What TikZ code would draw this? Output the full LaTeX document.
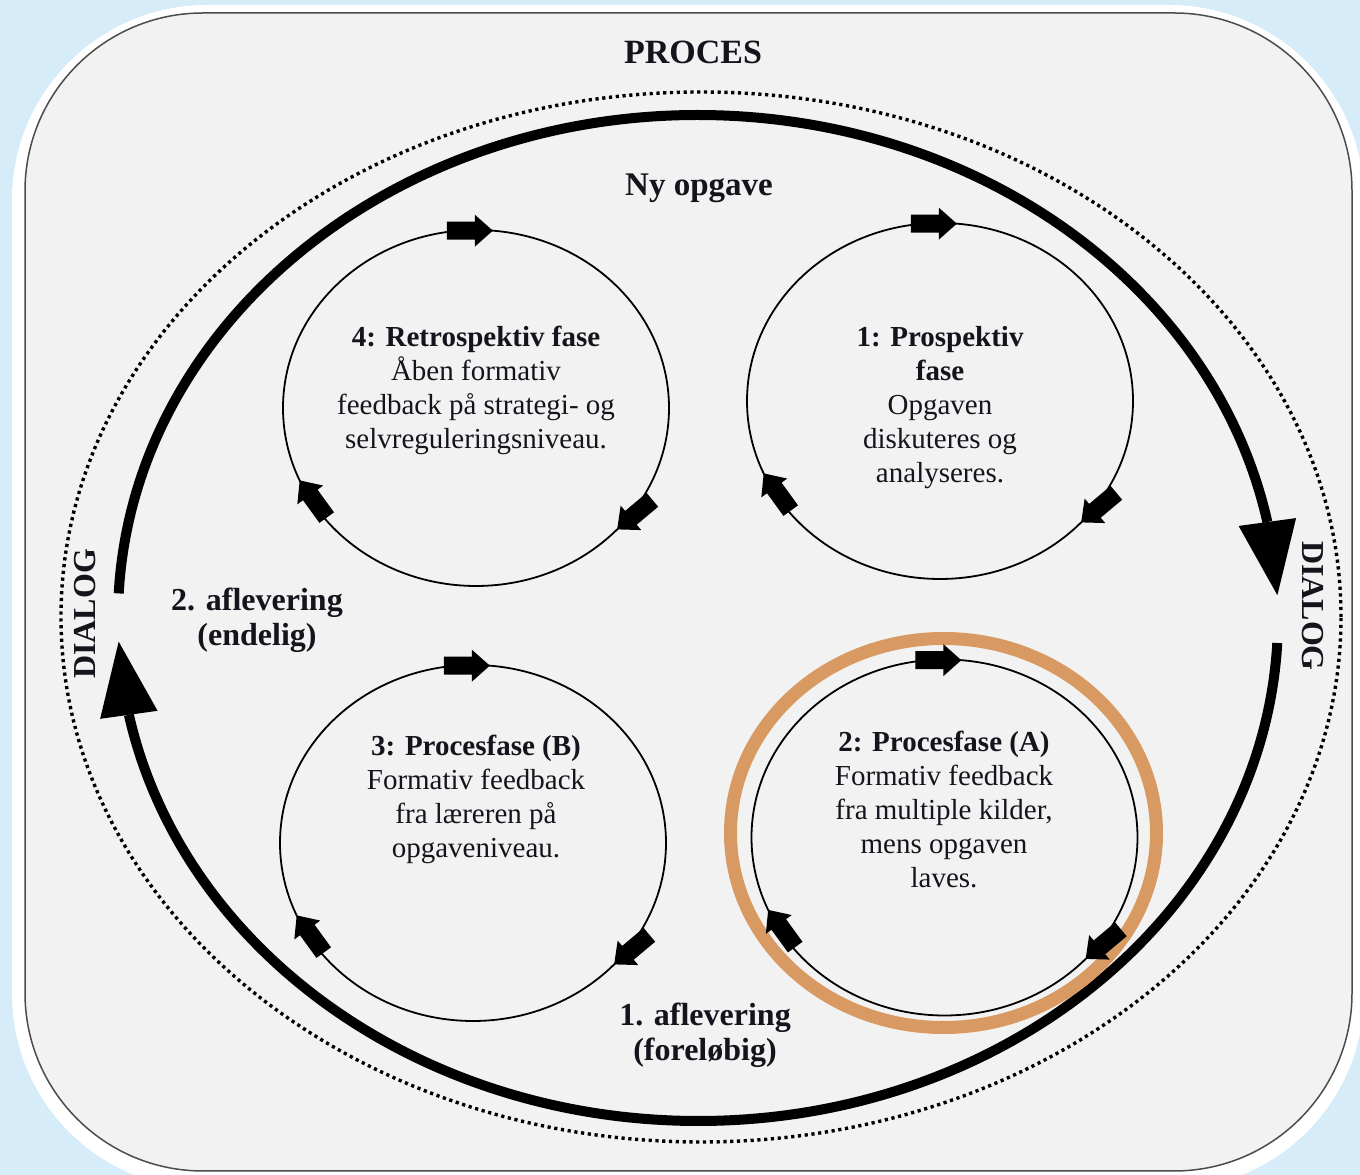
\documentclass[tikz,border=0pt]{standalone}
\usepackage{fontspec}
\setmainfont{Liberation Serif}
\usetikzlibrary{calc}
\definecolor{bgblue}{RGB}{214,236,249}
\definecolor{panel}{RGB}{242,242,242}
\definecolor{ring}{RGB}{216,154,98}
\definecolor{ink}{RGB}{20,20,28}
\tikzset{
  phase/.style={draw=black, line width=1.8pt},
  phasetext/.style={align=center, text=ink, font=\fontsize{29}{34}\selectfont, inner sep=0pt},
  biglabel/.style={align=center, text=ink, font=\fontsize{32}{35}\selectfont\bfseries, inner sep=0pt},
  bigline/.style={line width=10pt, draw=black},
  blk/.pic={\fill[black] (0,0) -- (-18,16) -- (-18,9) -- (-46,9) -- (-46,-9) -- (-18,-9) -- (-18,-16) -- cycle;},
}
\newcommand\cyclearrows[1]{%
  \path (#1) ++(85:193pt and 178pt) pic[rotate=0]{blk};
  \path (#1) ++(-43:193pt and 178pt) pic[rotate=220]{blk};
  \path (#1) ++(-156:193pt and 178pt) pic[rotate=126]{blk};
}
\begin{document}
\begin{tikzpicture}[x=1pt,y=1pt]
  % background
  \fill[bgblue] (0,0) rectangle (1360,1175);
  \useasboundingbox (0,0) rectangle (1360,1175);
  \fill[white, rounded corners=195pt] (12,-14) rectangle (1364,1170);
  \filldraw[fill=panel, draw=black!70, line width=1.5pt, rounded corners=178pt] (25,4) rectangle (1352,1162);

  % dotted process ellipse
  \coordinate (D) at (701,558);
  \draw[line width=3.4pt, dash pattern=on 3.2pt off 3.6pt] (D) ellipse [x radius=640, y radius=525];

  % big cycle
  \coordinate (E) at (698,557);
  \path (E) ++(11:580pt and 503pt) coordinate (rb);
  \path (E) ++(2.6:580pt and 503pt) coordinate (rt);
  \path (E) ++(-168.9:580pt and 503pt) coordinate (lb);
  \path (E) ++(-177.3:580pt and 503pt) coordinate (lt);
  \draw[bigline] (E) ++(177.2:580pt and 503pt) arc[start angle=177.2, end angle=11, x radius=580pt, y radius=503pt];
  \draw[bigline] (E) ++(-2.85:580pt and 503pt) arc[start angle=-2.85, end angle=-168.9, x radius=580pt, y radius=503pt];
  \fill (rt) -- ($(rb)!29pt!90:(rt)$) -- ($(rb)!29pt!-90:(rt)$) -- cycle;
  \fill (lt) -- ($(lb)!29pt!90:(lt)$) -- ($(lb)!29pt!-90:(lt)$) -- cycle;

  % phase circles
  \coordinate (c4) at (476,767);
  \coordinate (c1) at (940,774);
  \coordinate (c3) at (473,332);
  \coordinate (c2) at (944.5,337.5);
  \draw[ring, line width=13pt] (943.5,342) ellipse [x radius=213, y radius=194.5];
  \foreach \c in {c4,c1,c3,c2} {
    \draw[phase] (\c) ellipse [x radius=193, y radius=178];
  }
  \cyclearrows{c4}
  \cyclearrows{c1}
  \cyclearrows{c3}
  \cyclearrows{c2}

  % texts
  \node[phasetext] (t4) at (476,785) {\textbf{4: Retrospektiv fase}\\Åben formativ\\feedback på strategi- og\\selvreguleringsniveau.};
  \node[phasetext] (t1) at (940,767) {\textbf{1: Prospektiv}\\\textbf{fase}\\Opgaven\\diskuteres og\\analyseres.};
  \node[phasetext] (t3) at (476,376) {\textbf{3: Procesfase (B)}\\Formativ feedback\\fra læreren på\\opgaveniveau.};
  \node[phasetext] (t2) at (944,365.5) {\textbf{2: Procesfase (A)}\\Formativ feedback\\fra multiple kilder,\\mens opgaven\\laves.};

  \node[biglabel, font=\fontsize{34}{36}\selectfont\bfseries] (proces) at (693,1123) {PROCES};
  \node[biglabel, font=\fontsize{33}{36}\selectfont\bfseries] (ny) at (699,987) {Ny opgave};
  \node[biglabel] (afl2) at (257,555) {2. aflevering\\(endelig)};
  \node[biglabel] (afl1) at (705,140) {1. aflevering\\(foreløbig)};
  \node[biglabel, rotate=90] (dl) at (85,561) {DIALOG};
  \node[biglabel, rotate=-90] (dr) at (1313,569) {DIALOG};
\end{tikzpicture}
\end{document}
